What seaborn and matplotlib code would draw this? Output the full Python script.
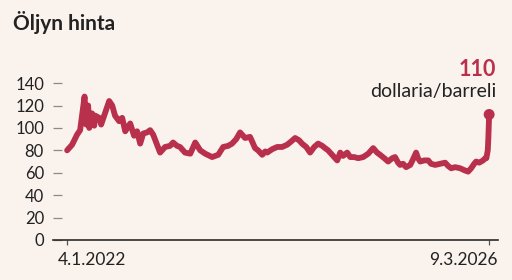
import matplotlib
matplotlib.use("Agg")
import matplotlib.pyplot as plt
import matplotlib.dates as mdates
import matplotlib.transforms as mtransforms
import seaborn as sns
import pandas as pd

# ---- data ----
dates = [
    "2022-01-04", "2022-01-22", "2022-02-09", "2022-02-20", "2022-03-08", "2022-03-14",
    "2022-03-21", "2022-03-25", "2022-04-04", "2022-04-12", "2022-04-15", "2022-04-30",
    "2022-05-07", "2022-05-18", "2022-06-05", "2022-06-16", "2022-06-26", "2022-07-11",
    "2022-07-22", "2022-08-02", "2022-08-20", "2022-09-03", "2022-09-14", "2022-09-25",
    "2022-10-06", "2022-10-20", "2022-10-31", "2022-11-11", "2022-11-25", "2022-12-06",
    "2022-12-24", "2023-01-11", "2023-01-22", "2023-02-05", "2023-02-16", "2023-03-06",
    "2023-03-25", "2023-04-12", "2023-04-30", "2023-05-18", "2023-06-12", "2023-07-04",
    "2023-07-22", "2023-08-09", "2023-08-23", "2023-09-07", "2023-09-21", "2023-10-09",
    "2023-10-27", "2023-11-07", "2023-11-14", "2023-11-25", "2023-12-10", "2023-12-21",
    "2023-12-28", "2024-01-15", "2024-02-02", "2024-02-20", "2024-03-09", "2024-03-24",
    "2024-04-07", "2024-04-21", "2024-05-02", "2024-05-17", "2024-05-31", "2024-06-15",
    "2024-06-29", "2024-07-14", "2024-07-24", "2024-08-04", "2024-08-15", "2024-08-26",
    "2024-09-06", "2024-09-17", "2024-09-27", "2024-10-12", "2024-10-23", "2024-11-06",
    "2024-11-21", "2024-12-09", "2024-12-27", "2025-01-14", "2025-01-28", "2025-02-08",
    "2025-02-23", "2025-03-09", "2025-03-24", "2025-04-03", "2025-04-14", "2025-04-21",
    "2025-05-02", "2025-05-13", "2025-05-28", "2025-06-07", "2025-06-18", "2025-06-25",
    "2025-07-03", "2025-07-17", "2025-08-01", "2025-08-11", "2025-08-26", "2025-09-13",
    "2025-10-01", "2025-10-12", "2025-10-23", "2025-11-06", "2025-11-24", "2025-12-12",
    "2025-12-23", "2026-01-03", "2026-01-14", "2026-01-21", "2026-02-01", "2026-02-15",
    "2026-02-23", "2026-02-27", "2026-03-04", "2026-03-06", "2026-03-09",
]
prices = [
    80, 85, 94, 98, 128, 103,
    120, 100, 113, 102, 111, 109,
    103, 111, 124, 120, 111, 106,
    109, 97, 104, 93, 97, 86,
    95, 96, 98, 94, 85, 78,
    83, 84, 87, 84, 83, 78,
    77, 87, 80, 77, 74, 76,
    83, 84, 86, 90, 96, 91,
    92, 86, 82, 80, 76, 79,
    78, 81, 83, 83, 85, 88,
    91, 89, 86, 83, 78, 83,
    86, 84, 82, 80, 77, 74,
    71, 78, 75, 78, 74, 74,
    73, 74, 77, 82, 78, 76,
    73, 70, 73, 74, 69, 67,
    68, 65, 67, 72, 78, 73,
    70, 71, 71, 68, 67, 68,
    69, 66, 64, 65, 64, 62,
    61, 64, 68, 70, 69, 71,
    73, 73, 80, 90, 112,
]
y_ticks = [0, 20, 40, 60, 80, 100, 120, 140]
x_tick_dates = ["2022-01-04", "2026-03-09"]
x_tick_labels = ["4.1.2022", "9.3.2026"]
title = "Öljyn hinta"
end_value_label = "110"
unit_label = "dollaria/barreli"

df = pd.DataFrame({"date": pd.to_datetime(dates), "price": prices})

# ---- style ----
BG = "#FAF2ED"
RED = "#B8304C"
TXT = "#222222"
sns.set_theme(style="white")
plt.rcParams["font.family"] = ["Lato", "DejaVu Sans"]

fig = plt.figure(figsize=(5.12, 2.8), dpi=100, facecolor=BG)
ax = fig.add_axes([53 / 512, 40 / 280, 445 / 512, 180 / 280])
ax.set_facecolor(BG)

sns.lineplot(data=df, x="date", y="price", ax=ax, color=RED, linewidth=4.2,
             solid_joinstyle="round", solid_capstyle="round", zorder=3)
sns.scatterplot(data=df.tail(1), x="date", y="price", ax=ax, color=RED,
                s=62, edgecolor="none", zorder=4, legend=False)

ax.set_xlim(pd.Timestamp("2021-11-14"), pd.Timestamp("2026-04-10"))
ax.set_ylim(0, 160.6)

for s in ["left", "right", "top"]:
    ax.spines[s].set_visible(False)
ax.spines["bottom"].set_color("#2b2b2b")
ax.spines["bottom"].set_linewidth(1.2)

ax.set_yticks(y_ticks)
ax.set_yticklabels([str(v) for v in y_ticks])
ax.tick_params(axis="y", direction="in", length=6.5, width=0.9, color="#8a8a8a",
               pad=6.5, labelsize=12, labelcolor=TXT, left=True)

ax.set_xticks([mdates.date2num(pd.Timestamp(d)) for d in x_tick_dates])
ax.set_xticklabels(x_tick_labels)
ax.tick_params(axis="x", direction="out", length=3.5, width=0.9, color="#555555",
               pad=5, labelsize=12.5, labelcolor=TXT, bottom=True)
xlabels = ax.get_xticklabels()
xlabels[0].set_horizontalalignment("left")
xlabels[-1].set_horizontalalignment("right")
xlabels[0].set_transform(xlabels[0].get_transform() +
                         mtransforms.ScaledTranslation(-9 / 100, 0, fig.dpi_scale_trans))
xlabels[-1].set_transform(xlabels[-1].get_transform() +
                          mtransforms.ScaledTranslation(8 / 100, 0, fig.dpi_scale_trans))
ax.set_xlabel("")
ax.set_ylabel("")
ax.grid(False)

fig.text(13 / 512, 1 - 22 / 280, title, fontsize=15, fontweight="bold",
         color=TXT, ha="left", va="center")
fig.text(496 / 512, 1 - 69 / 280, end_value_label, fontsize=15.5, fontweight="bold",
         color=RED, ha="right", va="center")
fig.text(496 / 512, 1 - 91 / 280, unit_label, fontsize=14,
         color=TXT, ha="right", va="center")

fig.savefig("out.png", dpi=100, facecolor=BG)
